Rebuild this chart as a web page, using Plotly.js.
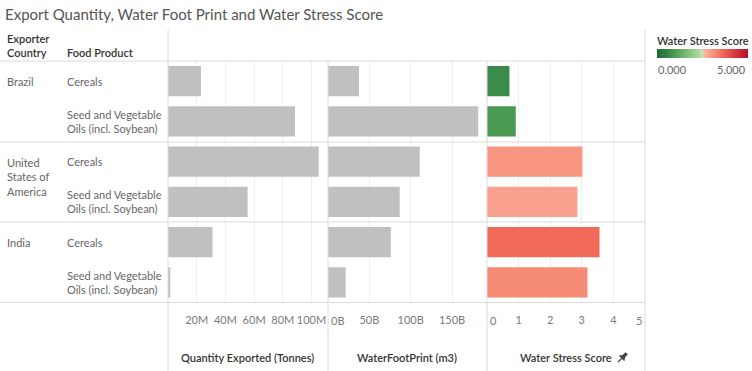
<!DOCTYPE html>
<html>
<head>
<meta charset="utf-8">
<script src="https://cdn.plot.ly/plotly-3.0.1.min.js"></script>
<style>html,body{margin:0;padding:0;background:#fff;}#chart{width:752px;height:371px;}</style>
</head>
<body>
<div id="chart"></div>
<script>
// ---- data ----
const countries = ['Brazil', 'Brazil', 'United States of America', 'United States of America', 'India', 'India'];
const products = ['Cereals', 'Seed and Vegetable Oils (incl. Soybean)', 'Cereals', 'Seed and Vegetable Oils (incl. Soybean)', 'Cereals', 'Seed and Vegetable Oils (incl. Soybean)'];
const quantityMillionTonnes = [23, 88.5, 105, 55.5, 31, 1.6];
const waterFootprintBillionM3 = [37.5, 181.7, 111, 86.7, 76, 21.4];
const waterStressScore = [0.71, 0.91, 3.02, 2.86, 3.56, 3.18];
const qtyTicks = [20, 40, 60, 80, 100];
const qtyTickLabels = ['20M', '40M', '60M', '80M', '100M'];
const wfpTicks = [0, 50, 100, 150];
const wfpTickLabels = ['0B', '50B', '100B', '150B'];
const wssTicks = [0, 1, 2, 3, 4, 5];
const wssTickLabels = ['0', '1', '2', '3', '4', '5'];
const legendLabels = ['0.000', '5.000'];

// ---- helpers ----
const W = 752, H = 371;
const px = v => v / W;
const py = v => 1 - v / H;
const FONT = 'Lato, "Open Sans", sans-serif';
const keys = countries.map((c, i) => c + '|' + products[i]);
const wrapProduct = p => p.replace('Seed and Vegetable ', 'Seed and Vegetable<br>');
const wrapCountry = c => c.replace('United States of America', 'United<br>States of<br>America');

const gray = '#c0c0c0';
const colorscale = [
  [0, '#1d6a34'], [0.14, '#3a8a4a'], [0.18, '#4a9a50'], [0.46, '#a9d99d'], [0.5, '#c4e6bb'],
  [0.5, '#fbbdb0'], [0.57, '#f9a190'], [0.6, '#f79682'], [0.64, '#f68b75'], [0.71, '#f26c5a'],
  [0.85, '#dc3a3e'], [1, '#b3112e']
];

const barCommon = {type: 'bar', orientation: 'h', y: keys, width: 0.75, hoverinfo: 'x+y'};
const traces = [
  Object.assign({}, barCommon, {x: quantityMillionTonnes, xaxis: 'x', yaxis: 'y', marker: {color: gray}}),
  Object.assign({}, barCommon, {x: waterFootprintBillionM3, xaxis: 'x2', yaxis: 'y', marker: {color: gray}}),
  Object.assign({}, barCommon, {x: waterStressScore, xaxis: 'x3', yaxis: 'y', marker: {
    color: waterStressScore, colorscale: colorscale, cmin: 0, cmax: 5, showscale: true,
    colorbar: {orientation: 'h', x: px(657), xanchor: 'left', y: py(49), yanchor: 'top', yref: 'paper',
      len: 91, lenmode: 'pixels', thickness: 9, thicknessmode: 'pixels', xpad: 0, ypad: 0,
      outlinewidth: 0, showticklabels: false, ticks: '', title: {text: ''}}
  }})
];

const tickFont = {family: FONT, size: 11, color: '#7a7a7a'};
const axCommon = {showgrid: true, gridcolor: '#efefef', gridwidth: 1, zeroline: false, showline: false,
  ticks: 'outside', ticklen: 7, tickcolor: 'rgba(0,0,0,0)', tickfont: tickFont, fixedrange: true, anchor: 'y',
  tickmode: 'array'};

const annotations = [];
const txt = (x, y, text, opts) => annotations.push(Object.assign({xref: 'paper', yref: 'paper', x: px(x), y: py(y),
  text: text, showarrow: false, xanchor: 'left', yanchor: 'middle', align: 'left',
  font: {family: FONT, size: 11, color: '#666'}}, opts || {}));

// headers
const headFont = {family: FONT, size: 11, color: '#333', weight: 600};
txt(5, 39, 'Exporter', {font: headFont});
txt(5, 53, 'Country', {font: headFont});
txt(65, 53, 'Food Product', {font: headFont});

// row labels
keys.forEach((k, i) => {
  annotations.push({xref: 'paper', yref: 'y', x: px(65), y: k, text: wrapProduct(products[i]), showarrow: false,
    xanchor: 'left', yanchor: 'middle', align: 'left', font: {family: FONT, size: 11, color: '#666'}});
  if (i === 0 || countries[i] !== countries[i - 1]) {
    annotations.push({xref: 'paper', yref: 'y', x: px(5), y: k, text: wrapCountry(countries[i]), showarrow: false,
      xanchor: 'left', yanchor: 'top', yshift: 8, align: 'left', font: {family: FONT, size: 11, color: '#666'}});
  }
});

// edge tick labels (clipped to pane edges as in the original)
const edgeTick = (xref, val, text, anchor, shift) => annotations.push({xref: xref, yref: 'paper', x: val, y: py(320),
  text: text, showarrow: false, xanchor: anchor, yanchor: 'middle', xshift: shift, font: tickFont});
edgeTick('x2', wfpTicks[0], wfpTickLabels[0], 'left', 1);
edgeTick('x3', wssTicks[0], wssTickLabels[0], 'left', 1);
edgeTick('x3', wssTicks[wssTicks.length - 1], wssTickLabels[wssTickLabels.length - 1], 'right', -1);

// axis titles
const axTitleFont = {family: FONT, size: 11, color: '#333', weight: 600};
txt(248, 357, 'Quantity Exported (Tonnes)', {xanchor: 'center', font: axTitleFont});
txt(407, 357, 'WaterFootPrint (m3)', {xanchor: 'center', font: axTitleFont});
txt(566, 357, 'Water Stress Score', {xanchor: 'center', font: axTitleFont});

// legend
txt(655, 40, 'Water Stress Score', {font: headFont});
txt(656, 69, legendLabels[0], {font: {family: FONT, size: 11, color: '#666'}});
txt(748, 69, legendLabels[1], {xanchor: 'right', font: {family: FONT, size: 11, color: '#666'}});

const line = (x0, y0, x1, y1, c) => ({type: 'line', xref: 'paper', yref: 'paper', x0: px(x0), y0: py(y0), x1: px(x1), y1: py(y1),
  line: {color: c || '#dcdcdc', width: 1}, layer: 'above'});
const shapes = [
  line(0, 61, 645, 61), line(0, 142, 645, 142), line(0, 222, 645, 222), line(0, 302.5, 645, 302.5),
  line(168, 30, 168, 371), line(328, 61, 328, 371), line(487, 61, 487, 371), line(645, 30, 645, 371),
  line(702, 55, 702, 58, '#222'),
  // pin icon after "Water Stress Score"
  {type: 'path', xref: 'paper', yref: 'paper', layer: 'above',
   path: `M ${px(618)} ${py(362)} L ${px(621.5)} ${py(358.5)} M ${px(620)} ${py(356)} L ${px(624)} ${py(360)} L ${px(624.5)} ${py(357)} L ${px(627)} ${py(354.5)} L ${px(625.5)} ${py(353)} L ${px(623)} ${py(355.5)} Z`,
   line: {color: '#444', width: 1.2}, fillcolor: '#444'}
];

const layout = {
  width: W, height: H, margin: {l: 0, r: 0, t: 0, b: 0}, paper_bgcolor: '#fff', plot_bgcolor: 'rgba(0,0,0,0)',
  showlegend: false, bargap: 0.25, font: {family: FONT},
  title: {text: 'Export Quantity, Water Foot Print and Water Stress Score', x: px(5), xanchor: 'left', xref: 'paper',
    y: py(15), yanchor: 'middle', yref: 'container', font: {family: FONT, size: 15, color: '#555'}},
  xaxis: Object.assign({}, axCommon, {domain: [px(168), px(328)], range: [0, 111.5], tickvals: qtyTicks, ticktext: qtyTickLabels}),
  xaxis2: Object.assign({}, axCommon, {domain: [px(328), px(487)], range: [0, 192.3], tickvals: wfpTicks,
    ticktext: wfpTickLabels.map((t, i) => i === 0 ? '' : t)}),
  xaxis3: Object.assign({}, axCommon, {domain: [px(487), px(645)], range: [0, 5], tickvals: wssTicks,
    ticktext: wssTickLabels.map((t, i) => (i === 0 || i === wssTickLabels.length - 1) ? '' : t)}),
  yaxis: {domain: [py(302.5), py(61)], type: 'category', categoryorder: 'array', categoryarray: keys,
    range: [5.5, -0.5], showticklabels: false, showgrid: false, zeroline: false, fixedrange: true},
  annotations: annotations, shapes: shapes
};

Plotly.newPlot('chart', traces, layout, {displayModeBar: false, staticPlot: true});
</script>
</body>
</html>
